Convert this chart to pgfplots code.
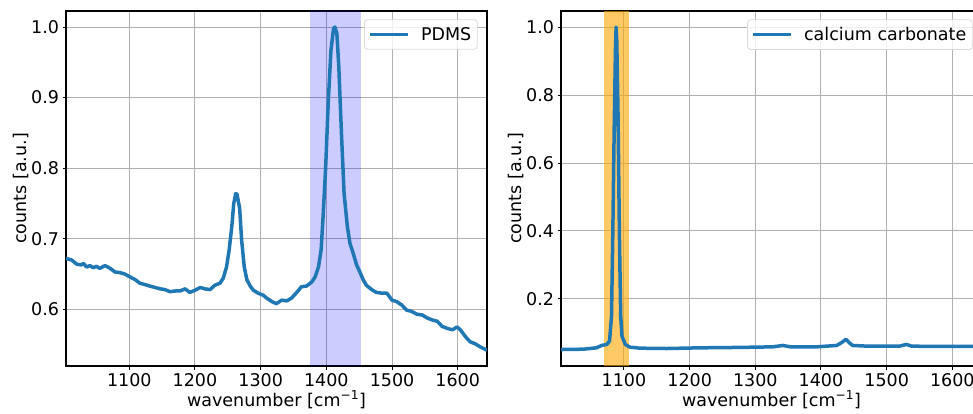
\documentclass[border=0pt]{standalone}
\usepackage{fontspec}
\setmainfont{DejaVu Sans}
\usepackage{pgfplots}
\pgfplotsset{compat=1.18}
\definecolor{tabblue}{RGB}{31,119,180}
\definecolor{gridgray}{RGB}{176,176,176}
\definecolor{mplorange}{RGB}{255,165,0}
\newcommand{\fs}{\fontsize{17.5}{21}\selectfont}
\pgfplotsset{
 specline/.style={tabblue, line width=3.5pt, line join=round,
  legend image code/.code={\draw[##1, line width=3.5pt] (0pt,0pt) -- (38pt,0pt); \path (47pt,0pt);}},
 spec/.style={
  scale only axis, width=421pt, height=355pt,
  axis line style={black, line width=1.6pt},
  grid=major, major grid style={gridgray, line width=1pt},
  tick align=outside, major tick length=3.5pt, tick style={black, line width=1pt},
  xtick pos=left, ytick pos=left,
  ticklabel style={font=\fs},
  label style={font=\fs},
  /pgf/number format/assume math mode=true,
  xtick={1100,1200,1300,1400,1500,1600},
  xticklabel style={/pgf/number format/1000 sep={}},
  yticklabel style={/pgf/number format/fixed, /pgf/number format/fixed zerofill, /pgf/number format/precision=1},
  xlabel={wavenumber [cm\textsuperscript{\char"2212 1}]},
  ylabel={counts [a.u.]},
  xlabel style={at={(axis description cs:0.5,-0.1127)}, anchor=base},
  ylabel style={at={(axis description cs:-0.095,0.5)}, anchor=base},
  legend style={at={(1,1)}, anchor=north east, xshift=-9.3pt, yshift=-8.3pt, draw=black!15, line width=0.8pt, rounded corners=3pt, fill=white, fill opacity=0.8, text opacity=1, font=\fs, inner xsep=4pt, inner ysep=5.5pt},
  legend cell align=left,
 }
}
\begin{document}
\begin{tikzpicture}
\fill[white] (0,0) rectangle (973pt,413pt);
\begin{axis}[spec, at={(66pt,47pt)}, anchor=south west,
  xmin=1003.6, xmax=1644.6, ymin=0.5197, ymax=1.0227,
  ytick={0.6,0.7,0.8,0.9,1.0}]
\addplot[draw=none, fill=blue, fill opacity=0.2, forget plot] coordinates {(1375,0.5197) (1452,0.5197) (1452,1.0227) (1375,1.0227)} -- cycle;
\addplot[specline] coordinates {
(1003.6,0.672) (1012,0.670) (1020,0.664) (1027,0.663) (1030,0.665) (1035,0.660) (1040,0.662) (1045,0.659) (1050,0.661) (1055,0.658) (1063,0.662) (1071,0.658) (1078,0.653) (1086,0.652) (1093,0.650) (1101,0.646) (1109,0.642) (1116,0.637) (1124,0.635) (1131,0.633) (1139,0.631) (1147,0.629) (1154,0.628) (1162,0.625) (1170,0.626) (1177,0.626) (1185,0.629) (1192,0.624) (1200,0.627) (1208,0.631) (1215,0.629) (1223,0.628) (1230,0.634) (1238,0.637) (1243,0.644) (1248,0.660) (1252,0.684) (1256,0.717) (1259,0.750) (1262,0.764) (1264,0.763) (1268,0.743) (1271,0.698) (1275,0.660) (1279,0.642) (1284,0.633) (1289,0.627) (1296,0.623) (1304,0.620) (1309,0.616) (1317,0.611) (1324,0.608) (1332,0.613) (1340,0.612) (1347,0.616) (1355,0.624) (1362,0.632) (1370,0.633) (1378,0.639) (1383,0.646) (1388,0.660) (1392,0.684) (1395,0.731) (1399,0.802) (1403,0.896) (1407,0.967) (1411,0.998) (1413,1.000) (1416,0.991) (1419,0.943) (1423,0.849) (1427,0.764) (1432,0.717) (1436,0.693) (1441,0.679) (1446,0.663) (1451,0.653) (1456,0.642) (1461,0.634) (1469,0.628) (1476,0.624) (1484,0.623) (1492,0.623) (1500,0.613) (1507,0.611) (1515,0.606) (1522,0.599) (1530,0.597) (1538,0.593) (1546,0.592) (1553,0.588) (1561,0.585) (1569,0.583) (1576,0.576) (1584,0.573) (1592,0.571) (1599,0.575) (1604,0.571) (1612,0.561) (1619,0.554) (1627,0.551) (1634,0.547) (1644.6,0.542)
};
\addlegendentry{PDMS}
\end{axis}
\begin{axis}[spec, at={(561pt,47pt)}, anchor=south west,
  xmin=1004.1, xmax=1645.2, ymin=0.0025, ymax=1.0475,
  ytick={0.2,0.4,0.6,0.8,1.0}]
\addplot[draw=none, fill=mplorange, fill opacity=0.6, forget plot] coordinates {(1070,0.0025) (1108,0.0025) (1108,1.0475) (1070,1.0475)} -- cycle;
\addplot[specline] coordinates {
(1004.1,0.051) (1038,0.052) (1058,0.056) (1066,0.063) (1074,0.066) (1078,0.076) (1081,0.149) (1083,0.394) (1085,0.688) (1087,0.933) (1088,1.000) (1089,0.962) (1091,0.737) (1093,0.394) (1095,0.149) (1097,0.090) (1102,0.066) (1109,0.058) (1124,0.055) (1165,0.054) (1216,0.056) (1266,0.057) (1302,0.058) (1327,0.059) (1342,0.063) (1353,0.059) (1394,0.059) (1424,0.063) (1431,0.071) (1438,0.081) (1443,0.071) (1448,0.063) (1470,0.061) (1520,0.061) (1530,0.066) (1538,0.061) (1571,0.060) (1632,0.060) (1645.2,0.060)
};
\addlegendentry{calcium carbonate}
\end{axis}
\pgfresetboundingbox
\path[use as bounding box] (0,0) rectangle (973pt,413pt);
\end{tikzpicture}
\end{document}
